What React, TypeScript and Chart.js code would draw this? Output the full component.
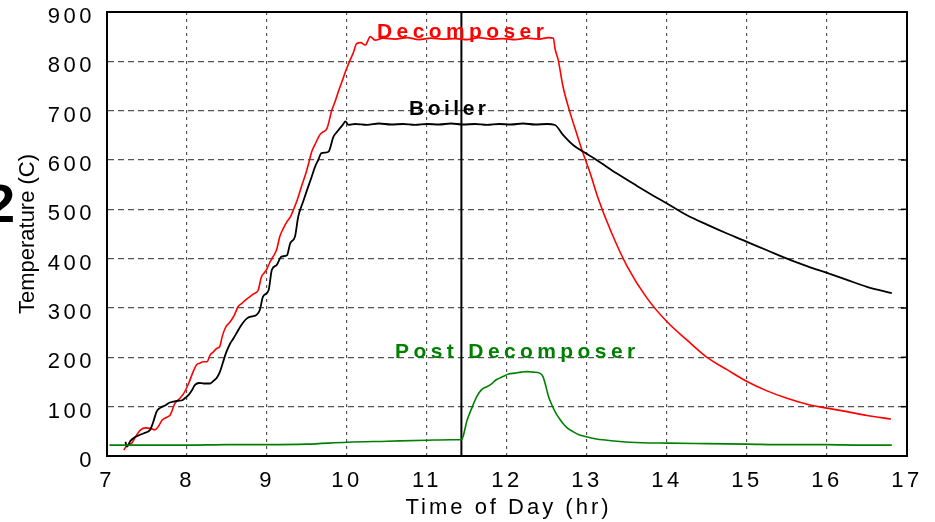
import React, { useEffect, useRef } from "react";
import { Chart, registerables } from "chart.js";

Chart.register(...registerables);

const FONT = '"Liberation Sans", Arial, Helvetica, sans-serif';

// ---- Data ----
const decomposerHours = [
  7.21, 7.25, 7.31, 7.36, 7.42, 7.48, 7.54, 7.6, 7.65, 7.69, 7.74, 7.79, 7.85, 7.9, 7.96, 8.02, 8.08, 8.12, 8.16, 8.2,
  8.25, 8.29, 8.33, 8.37, 8.41, 8.44, 8.48, 8.54, 8.59, 8.64, 8.69, 8.73, 8.77, 8.81, 8.85, 8.89, 8.93, 8.97, 9.0, 9.04,
  9.08, 9.12, 9.16, 9.2, 9.25, 9.29, 9.33, 9.38, 9.43, 9.48, 9.52, 9.56, 9.61, 9.66, 9.7, 9.75, 9.81, 9.85, 9.89, 9.94,
  9.98, 10.04, 10.08, 10.12, 10.17, 10.23, 10.29, 10.35, 10.45, 10.6, 10.75, 10.9, 11.05, 11.2, 11.35, 11.5, 11.65, 11.8,
  11.95, 12.1, 12.25, 12.4, 12.52, 12.58, 12.6, 12.64, 12.7, 12.79, 12.87, 12.95, 13.04, 13.14, 13.3, 13.5, 13.75, 14.0,
  14.25, 14.5, 14.75, 15.0, 15.25, 15.5, 15.75, 16.0, 16.25, 16.5, 16.8,
];
const decomposerTemps = [
  12, 22, 26, 40, 53, 57, 56, 53, 62, 73, 78, 83, 107, 115, 127, 147, 172, 185, 188, 191,
  191, 205, 211, 218, 222, 242, 260, 272, 285, 303, 310, 316, 321, 326, 330, 336, 363, 372, 380, 394,
  405, 418, 445, 460, 475, 484, 499, 520, 546, 570, 593, 617, 635, 651, 657, 664, 701, 718, 738, 760,
  779, 803, 818, 836, 838, 833, 850, 843, 847, 845, 848, 844, 847, 845, 846, 844, 848, 845,
  846, 844, 847, 845, 848, 847, 826, 803, 749, 695, 654, 614, 573, 522, 455, 385, 320, 272,
  235, 200, 175, 151, 132, 117, 105, 97, 90, 82, 75,
];

const boilerHours = [
  7.23, 7.25, 7.29, 7.33, 7.4, 7.46, 7.54, 7.58, 7.62, 7.67, 7.73, 7.78, 7.83, 7.89, 7.94, 7.98, 8.02, 8.06, 8.1, 8.15,
  8.21, 8.29, 8.33, 8.37, 8.41, 8.45, 8.49, 8.54, 8.58, 8.64, 8.7, 8.75, 8.81, 8.87, 8.91, 8.95, 9.02, 9.06, 9.12, 9.18,
  9.25, 9.29, 9.35, 9.39, 9.45, 9.5, 9.55, 9.6, 9.64, 9.68, 9.73, 9.77, 9.83, 9.87, 9.91, 9.95, 9.98, 10.02, 10.1, 10.25,
  10.4, 10.55, 10.7, 10.85, 11.0, 11.15, 11.3, 11.45, 11.6, 11.75, 11.9, 12.05, 12.2, 12.35, 12.5, 12.6, 12.7, 12.83,
  12.95, 13.12, 13.37, 13.62, 13.89, 14.0, 14.25, 14.5, 14.75, 15.0, 15.25, 15.5, 15.75, 16.0, 16.25, 16.5, 16.81,
];
const boilerTemps = [
  29, 19, 30, 36, 42, 46, 53, 70, 90, 98, 103, 108, 110, 112, 113, 118, 124, 133, 144, 148,
  147, 147, 152, 158, 170, 190, 210, 228, 238, 255, 270, 279, 283, 286, 296, 323, 336, 377, 387, 404,
  407, 431, 445, 485, 515, 539, 562, 586, 600, 614, 615, 617, 647, 656, 664, 672, 678, 671, 673, 671,
  674, 672, 673, 671, 673, 672, 674, 672, 673, 671, 673, 672, 674, 672, 673, 671, 651, 630,
  617, 600, 573, 548, 522, 512, 488, 469, 451, 434, 417, 400, 385, 371, 357, 343, 330,
];

const postHours = [
  7.03, 7.5, 8.0, 8.5, 9.0, 9.5, 10.0, 10.5, 11.0, 11.3, 11.43, 11.45, 11.5, 11.56, 11.62, 11.68, 11.74, 11.79, 11.87,
  11.95, 12.02, 12.1, 12.18, 12.25, 12.33, 12.41, 12.45, 12.48, 12.52, 12.56, 12.6, 12.65, 12.7, 12.76, 12.83, 12.9,
  12.99, 13.1, 13.25, 13.54, 14.02, 14.5, 15.0, 15.5, 16.0, 16.4, 16.81,
];
const postTemps = [
  22, 22, 22, 23, 23, 24, 28, 30, 32, 33, 33, 39, 72, 97, 120, 134, 140, 144, 155,
  161, 166, 168, 170, 171, 170, 168, 161, 145, 120, 104, 90, 77, 66, 56, 49, 43,
  39, 35, 32, 28, 26, 25, 24, 23, 23, 22, 22,
];

const markerHour = 11.43;
const markerTemps = [0, 900];

const xRange = [7, 17];
const yRange = [0, 900];
const xStep = 1;
const yStep = 100;

const xTitle = "Time of Day (hr)";
const yTitle = "Temperature (C)";

const seriesNames = ["Decomposer", "Boiler", "Post Decomposer"];
const seriesColors = ["#ff0000", "#000000", "#008000"];
// label anchor (hour, temperature) for each series name
const labelHours = [10.375, 10.775, 10.6];
const labelTemps = [847, 691, 199];

const toPoints = (xs: number[], ys: number[]) => xs.map((x, i) => ({ x, y: ys[i] }));

const decorPlugin = {
  id: "decor",
  beforeDraw(chart: any) {
    chart.ctx.letterSpacing = "3.5px";
  },
  afterDraw(chart: any) {
    const { ctx, chartArea: a, scales } = chart;
    const xs = scales.x;
    const ys = scales.y;
    ctx.save();
    ctx.setLineDash([]);
    // frame
    ctx.strokeStyle = "#000";
    ctx.lineWidth = 2;
    ctx.strokeRect(a.left, a.top, a.right - a.left, a.bottom - a.top);
    // inner tick marks on the right side
    ctx.lineWidth = 1.5;
    ys.ticks.forEach((t: any) => {
      const py = ys.getPixelForValue(t.value);
      ctx.beginPath();
      ctx.moveTo(a.right - 6, py);
      ctx.lineTo(a.right, py);
      ctx.stroke();
    });
    // series labels
    ctx.textAlign = "left";
    ctx.textBaseline = "alphabetic";
    seriesNames.forEach((name, i) => {
      ctx.font = `bold 21px ${FONT}`;
      ctx.letterSpacing = i === 1 ? "3.5px" : "4.4px";
      ctx.fillStyle = seriesColors[i];
      ctx.fillText(name, xs.getPixelForValue(labelHours[i]), ys.getPixelForValue(labelTemps[i]));
    });
    // x title
    ctx.fillStyle = "#000";
    ctx.font = `22px ${FONT}`;
    ctx.letterSpacing = "3px";
    ctx.textAlign = "center";
    ctx.fillText(xTitle, (a.left + a.right) / 2 + 1.5, a.bottom + 58);
    // y title
    ctx.save();
    ctx.letterSpacing = "0px";
    ctx.font = `22px ${FONT}`;
    ctx.translate(34, (a.top + a.bottom) / 2);
    ctx.rotate(-Math.PI / 2);
    ctx.textAlign = "center";
    ctx.fillText(yTitle, 0, 0);
    ctx.restore();
    // partial panel character at the left edge
    ctx.letterSpacing = "0px";
    ctx.font = `bold 54px ${FONT}`;
    ctx.textAlign = "left";
    ctx.fillText("2", -15, 222);
    ctx.restore();
  },
};

export default function App() {
  const ref = useRef<HTMLCanvasElement | null>(null);

  useEffect(() => {
    const canvas = ref.current;
    if (!canvas) return;
    const lineDs = (label: string, xsArr: number[], ysArr: number[], color: string, width: number) => ({
      label,
      data: toPoints(xsArr, ysArr),
      showLine: true,
      borderColor: color,
      backgroundColor: color,
      borderWidth: width,
      pointRadius: 0,
      cubicInterpolationMode: "monotone",
      fill: false,
    });
    const chart = new Chart(canvas, {
      type: "scatter",
      data: {
        datasets: [
          lineDs(seriesNames[2], postHours, postTemps, seriesColors[2], 1.6),
          lineDs(seriesNames[1], boilerHours, boilerTemps, seriesColors[1], 1.8),
          lineDs(seriesNames[0], decomposerHours, decomposerTemps, seriesColors[0], 1.6),
          lineDs("marker", [markerHour, markerHour], markerTemps, "#000000", 2),
        ],
      },
      options: {
        responsive: false,
        animation: false,
        devicePixelRatio: 1,
        layout: { padding: { left: 0, right: 28, top: 12, bottom: 0 } },
        plugins: {
          legend: { display: false },
          tooltip: { enabled: false },
        },
        scales: {
          x: {
            type: "linear",
            min: xRange[0],
            max: xRange[1],
            afterFit: (s: any) => {
              s.height = 66;
            },
            ticks: {
              stepSize: xStep,
              color: "#000",
              padding: 13,
              maxRotation: 0,
              font: { family: FONT, size: 22, lineHeight: 1.1 },
            },
            grid: { color: "#555", lineWidth: 1.2, drawTicks: false },
            border: { display: true, color: "#000", width: 2, dash: [3, 4] },
          },
          y: {
            type: "linear",
            min: yRange[0],
            max: yRange[1],
            afterFit: (s: any) => {
              s.width = 107;
              s.paddingTop = 0;
              s.paddingBottom = 0;
            },
            ticks: {
              stepSize: yStep,
              color: "#000",
              padding: 12,
              labelOffset: 5,
              font: { family: FONT, size: 22, lineHeight: 1.1 },
            },
            grid: { color: "#555", lineWidth: 1.3, drawTicks: false },
            border: { display: true, color: "#000", width: 2, dash: [6, 4] },
          },
        },
      },
      plugins: [decorPlugin],
    } as any);
    return () => chart.destroy();
  }, []);

  return (
    <div style={{ position: "fixed", left: 0, top: 0, width: 935, height: 522, background: "#fff" }}>
      <canvas ref={ref} width={935} height={522} style={{ width: 935, height: 522 }} />
    </div>
  );
}
